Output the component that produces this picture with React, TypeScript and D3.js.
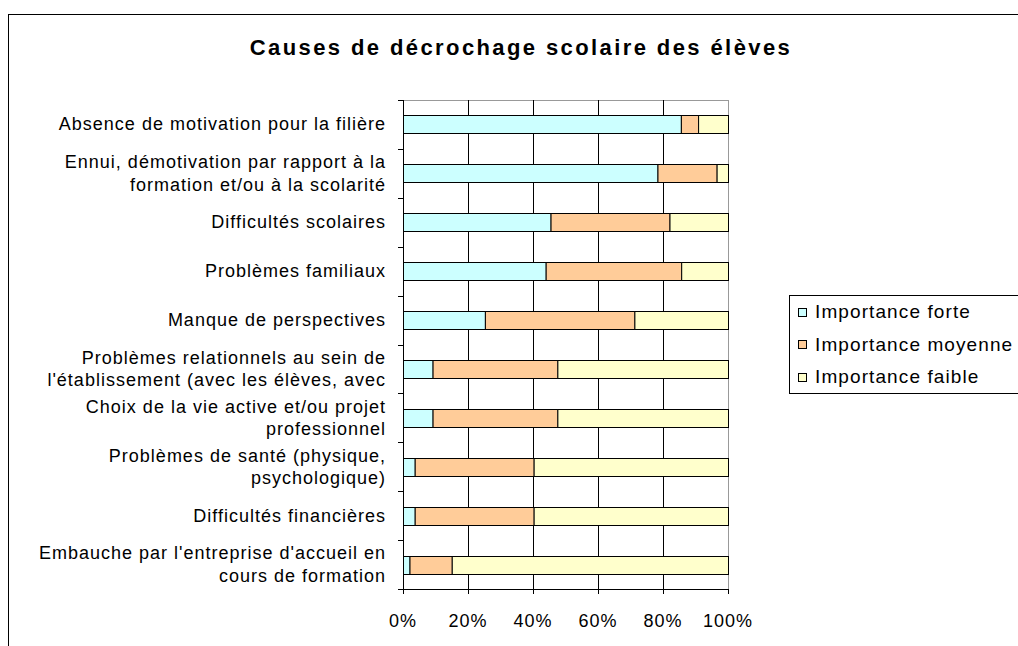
import React, { useEffect, useRef } from "react";
import * as d3 from "d3";

const categories = [
  ["Absence de motivation pour la filière"],
  ["Ennui, démotivation par rapport à la", "formation et/ou à la scolarité"],
  ["Difficultés scolaires"],
  ["Problèmes familiaux"],
  ["Manque de perspectives"],
  ["Problèmes relationnels au sein de", "l'établissement (avec les élèves, avec"],
  ["Choix de la vie active et/ou projet", "professionnel"],
  ["Problèmes de santé (physique,", "psychologique)"],
  ["Difficultés financières"],
  ["Embauche par l'entreprise d'accueil en", "cours de formation"],
];

const seriesNames = ["Importance forte", "Importance moyenne", "Importance faible"];
const forte = [85.5, 78.3, 45.4, 43.9, 25.2, 9.1, 9.1, 3.6, 3.6, 2.0];
const moyenne = [5.3, 18.2, 36.6, 41.7, 46.0, 38.4, 38.4, 36.6, 36.6, 13.0];
const faible = [9.2, 3.5, 18.0, 14.4, 28.8, 52.5, 52.5, 59.8, 59.8, 85.0];
const colors = ["#CCFFFF", "#FFCC99", "#FFFFCC"];
const xTicks = [0, 0.2, 0.4, 0.6, 0.8, 1];

const font = "'Liberation Sans', Arial, sans-serif";

const App = () => {
  const svgRef = useRef<SVGSVGElement>(null);

  useEffect(() => {
    const svg = d3.select(svgRef.current);
    svg.selectAll("*").remove();

    const left = 403;
    const right = 728;
    const top = 100;
    const bottom = 589;

    // outer frame
    svg
      .append("rect")
      .attr("x", 8.5)
      .attr("y", 14.5)
      .attr("width", 1020)
      .attr("height", 640)
      .attr("fill", "#fff")
      .attr("stroke", "#000");

    svg
      .append("text")
      .attr("x", 521)
      .attr("y", 55)
      .attr("text-anchor", "middle")
      .attr("font-family", font)
      .attr("font-weight", "bold")
      .attr("font-size", 22)
      .attr("letter-spacing", 2.4)
      .text("Causes de décrochage scolaire des élèves");

    const keys = categories.map((_, i) => String(i));
    const x = d3.scaleLinear().domain([0, 1]).range([left, right]);
    const y = d3.scaleBand().domain(keys).range([top, bottom]).padding(0);

    const rows = keys.map((k, i) => ({ key: k, forte: forte[i], moyenne: moyenne[i], faible: faible[i] }));
    const stack = d3
      .stack<any>()
      .keys(["forte", "moyenne", "faible"])
      .offset(d3.stackOffsetExpand);
    const series = stack(rows);

    // plot border
    svg
      .append("rect")
      .attr("x", left + 0.5)
      .attr("y", top + 0.5)
      .attr("width", right - left)
      .attr("height", bottom - top)
      .attr("fill", "none")
      .attr("stroke", "#999");

    // vertical gridlines
    svg
      .append("g")
      .selectAll("line")
      .data(xTicks.slice(1, -1))
      .join("line")
      .attr("x1", (d) => Math.round(x(d)) + 0.5)
      .attr("x2", (d) => Math.round(x(d)) + 0.5)
      .attr("y1", top)
      .attr("y2", bottom)
      .attr("stroke", "#000");

    const bh = y.bandwidth() * 0.37;
    svg
      .append("g")
      .selectAll("g")
      .data(series)
      .join("g")
      .attr("fill", (_, i) => colors[i])
      .selectAll("rect")
      .data((d) => d)
      .join("rect")
      .attr("x", (d) => x(d[0]) + 0.5)
      .attr("width", (d) => x(d[1]) - x(d[0]))
      .attr("y", (d) => Math.round(y(d.data.key)! + (y.bandwidth() - bh) / 2) + 0.5)
      .attr("height", Math.round(bh))
      .attr("stroke", "#000")
      .attr("stroke-width", 1);

    // left axis
    const yAxisG = svg.append("g");
    yAxisG
      .append("line")
      .attr("x1", left + 0.5)
      .attr("x2", left + 0.5)
      .attr("y1", top)
      .attr("y2", bottom + 5)
      .attr("stroke", "#000");
    yAxisG
      .selectAll("line.tick")
      .data(keys.concat(["end"]))
      .join("line")
      .attr("class", "tick")
      .attr("x1", left - 5)
      .attr("x2", left)
      .attr("y1", (d) => Math.round(d === "end" ? bottom : y(d)!) + 0.5)
      .attr("y2", (d) => Math.round(d === "end" ? bottom : y(d)!) + 0.5)
      .attr("stroke", "#000");

    // category labels
    const lineH = 22.5;
    yAxisG
      .selectAll("text")
      .data(categories)
      .join("text")
      .attr("font-family", font)
      .attr("font-size", 18)
      .attr("letter-spacing", 1)
      .attr("text-anchor", "end")
      .each(function (lines, i) {
        const cy = y(keys[i])! + y.bandwidth() / 2;
        const t = d3.select(this);
        lines.forEach((ln, j) => {
          t.append("tspan")
            .attr("x", 386)
            .attr("y", cy + (j - (lines.length - 1) / 2) * lineH + 6)
            .text(ln);
        });
      });

    // bottom axis
    const xAxisG = svg.append("g");
    xAxisG
      .append("line")
      .attr("x1", left)
      .attr("x2", right + 1)
      .attr("y1", bottom + 0.5)
      .attr("y2", bottom + 0.5)
      .attr("stroke", "#000");
    xAxisG
      .selectAll("line.tick")
      .data(xTicks)
      .join("line")
      .attr("class", "tick")
      .attr("x1", (d) => Math.round(x(d)) + 0.5)
      .attr("x2", (d) => Math.round(x(d)) + 0.5)
      .attr("y1", bottom)
      .attr("y2", bottom + 5)
      .attr("stroke", "#000");
    xAxisG
      .selectAll("text")
      .data(xTicks)
      .join("text")
      .attr("x", (d) => x(d))
      .attr("y", 627)
      .attr("text-anchor", "middle")
      .attr("font-family", font)
      .attr("font-size", 18)
      .attr("letter-spacing", 1)
      .text((d) => d3.format(".0%")(d));

    // legend
    const lg = svg.append("g");
    lg.append("rect")
      .attr("x", 789.5)
      .attr("y", 295.5)
      .attr("width", 300)
      .attr("height", 98)
      .attr("fill", "#fff")
      .attr("stroke", "#000");
    seriesNames.forEach((name, i) => {
      const cy = 311.5 + i * 32.5;
      lg.append("rect")
        .attr("x", 798.5)
        .attr("y", Math.round(cy - 4) + 0.5)
        .attr("width", 8)
        .attr("height", 8)
        .attr("fill", colors[i])
        .attr("stroke", "#000");
      lg.append("text")
        .attr("x", 815)
        .attr("y", cy + 6.5)
        .attr("font-family", font)
        .attr("font-size", 19)
        .attr("letter-spacing", 1.1)
        .text(name);
    });
  }, []);

  return (
    <svg
      ref={svgRef}
      width={1018}
      height={646}
      style={{ position: "absolute", left: 0, top: 0, background: "#fff" }}
    ></svg>
  );
};

export default App;
